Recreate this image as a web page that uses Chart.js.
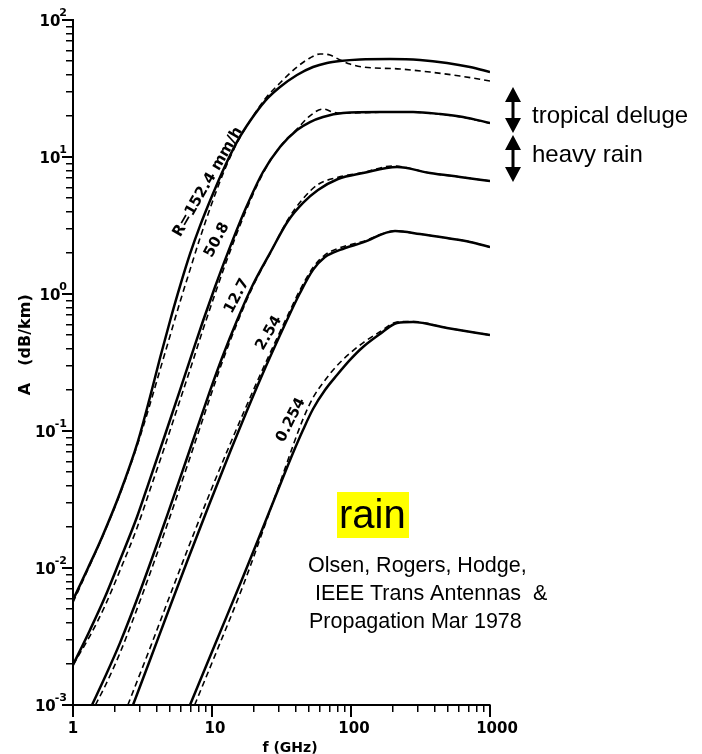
<!DOCTYPE html>
<html><head><meta charset="utf-8">
<script src="https://cdn.jsdelivr.net/npm/chart.js@4.4.1/dist/chart.umd.min.js"></script>
<style>html,body{margin:0;padding:0;background:#fff}#wrap{width:702px;height:754px;position:relative}</style>
</head><body><div id="wrap"><canvas id="c" width="702" height="754"></canvas></div>
<script>
// ---- data (frequency in GHz, attenuation in dB/km) ----
const rainRateLabels = ['R=152.4 mm/h', '50.8', '12.7', '2.54', '0.254'];
const yTickExponents = [-3, -2, -1, 0, 1, 2];
const xTickLabels = [1, 10, 100, 1000];

// R = 152.4 mm/h
const f152 = [1,1.282,1.617,2.178,2.935,3.581,4.227,4.988,5.886,6.947,8.199,10,12.41,15.13,18.77,24.06,30.84,40.88,53.3,67.2,83.36,116.1,190.8,313.6,490.6,718,1000];
const a152 = [0.00584,0.01,0.0168,0.0353,0.0845,0.177,0.341,0.635,1.14,1.96,3.14,5.19,8.6,12.9,18.3,25.6,32.4,39.7,45.4,48.6,50.2,51.5,51.9,51.1,48.6,45.4,41.7];
const f152d = [1,1.282,1.617,2.178,2.935,3.581,4.227,4.988,5.886,6.947,8.199,10,12.41,15.13,18.77,24.06,30.84,40.88,50.7,59.84,70.6,83.36,98.4,122,225.2,370.1,608.4,1000];
const a152d = [0.0056,0.0098,0.0166,0.0347,0.0817,0.157,0.279,0.494,0.874,1.5,2.56,4.62,8.18,12.65,18.3,26.5,34.7,45.4,52.8,56.5,55.5,51.1,47.7,45.4,43.9,41.7,39.0,35.9];

// R = 50.8 mm/h
const f508 = [1,1.325,1.699,2.178,2.886,3.581,4.59,5.886,7.178,8.615,10.51,12.82,17.28,23.28,30.84,40.88,50.7,62.89,87.6,161.7,279.3,436.9,639.3,1000];
const a508 = [0.00196,0.00353,0.00614,0.01144,0.02357,0.0446,0.0935,0.199,0.365,0.635,1.125,1.93,4.1,7.77,11.83,15.74,18.0,19.6,20.95,21.3,21.3,20.6,19.6,17.7];
const f508d = [1,1.325,1.699,2.178,2.886,3.581,4.59,5.886,7.178,8.615,10.51,12.82,17.28,23.28,30.84,40.88,50.7,62.89,75,87.6,161.7,279.3,436.9,639.3,1000];
const a508d = [0.00196,0.0032,0.0053,0.0096,0.0196,0.0372,0.078,0.168,0.31,0.55,1.0,1.78,3.9,7.6,11.9,16.0,20.0,22.4,21.2,20.9,21.2,21.2,20.5,19.5,17.6];

// R = 12.7 mm/h
const f127 = [1.37,1.699,2.178,3.136,4.746,6.61,9.674,11.8,15.13,19.72,26.14,35.23,45.15,57.89,80.62,122,214.3,370.1,608.4,1000];
const a127 = [0.001,0.0016,0.00284,0.00739,0.024,0.0635,0.196,0.341,0.641,1.173,1.99,3.41,4.62,5.74,6.91,7.64,8.45,7.64,7.15,6.68];
const f127d = [1.45,1.699,2.178,3.136,4.746,6.61,9.674,11.8,15.13,19.72,26.14,35.23,45.15,57.89,80.62,122,200,370.1,608.4,1000];
const a127d = [0.001,0.00137,0.0024,0.0063,0.0205,0.055,0.175,0.315,0.61,1.14,1.97,3.5,4.95,6.3,7.1,7.7,8.6,7.64,7.15,6.68];

// R = 2.54 mm/h
const f254 = [2.702,3.581,5.07,6.61,9.515,13.48,22.14,34.64,42.96,53.3,65.02,83.36,122,207.3,313.6,490.6,718,1000];
const a254 = [0.001,0.00213,0.00546,0.0111,0.0288,0.0703,0.236,0.646,1.017,1.5,1.86,2.1,2.38,2.88,2.74,2.56,2.4,2.2];
const f254d = [2.48,3.581,5.07,6.61,9.515,13.48,22.14,34.64,42.96,53.3,65.02,83.36,122,207.3,313.6,490.6,718,1000];
const a254d = [0.001,0.0026,0.0066,0.0133,0.034,0.08,0.255,0.68,1.07,1.56,1.93,2.18,2.42,2.88,2.74,2.56,2.4,2.2];

// R = 0.254 mm/h
const f0254 = [6.947,10.69,16.71,21.42,26.14,31.89,38.25,45.15,53.3,65.02,79.31,98.35,122,161.7,214.3,279.3,490.6,1000];
const a0254 = [0.001,0.00288,0.0086,0.016,0.0265,0.0439,0.0691,0.1017,0.1447,0.199,0.256,0.33,0.41,0.51,0.614,0.625,0.565,0.502];
const f0254d = [7.5,10.69,16.71,21.42,26.14,31.89,38.25,45.15,53.3,65.02,79.31,98.35,122,161.7,214.3,279.3,490.6,1000];
const a0254d = [0.001,0.0024,0.0074,0.0148,0.0262,0.046,0.078,0.122,0.175,0.235,0.3,0.37,0.44,0.53,0.625,0.63,0.565,0.502];

// ---- build datasets ----
const pts = (fs, as) => fs.map((f, i) => ({x: f, y: as[i]}));
const solidSets = [[f152,a152],[f508,a508],[f127,a127],[f254,a254],[f0254,a0254]];
const dashedSets = [[f152d,a152d],[f508d,a508d],[f127d,a127d],[f254d,a254d],[f0254d,a0254d]];
const datasets = [];
dashedSets.forEach(([f,a], i) => datasets.push({
  label: rainRateLabels[i] + ' (dashed)', data: pts(f,a), borderColor:'#000', borderWidth:1.6,
  borderDash:[6,4], pointRadius:0, fill:false, cubicInterpolationMode:'monotone'
}));
solidSets.forEach(([f,a], i) => datasets.push({
  label: rainRateLabels[i], data: pts(f,a), borderColor:'#000', borderWidth:2.5,
  pointRadius:0, fill:false, cubicInterpolationMode:'monotone'
}));

function logTicks(minExp, maxExp){
  const t = [];
  for (let e = minExp; e < maxExp; e++) for (let m = 1; m <= 9; m++) t.push({value: m * Math.pow(10, e)});
  t.push({value: Math.pow(10, maxExp)});
  return t;
}

function dblArrow(ctx, x, y1, y2){
  const hw = 8, hh = 15;
  ctx.lineWidth = 3;
  ctx.beginPath(); ctx.moveTo(x, y1 + hh - 2); ctx.lineTo(x, y2 - hh + 2); ctx.stroke();
  ctx.beginPath(); ctx.moveTo(x, y1); ctx.lineTo(x - hw, y1 + hh); ctx.lineTo(x + hw, y1 + hh); ctx.closePath(); ctx.fill();
  ctx.beginPath(); ctx.moveTo(x, y2); ctx.lineTo(x - hw, y2 - hh); ctx.lineTo(x + hw, y2 - hh); ctx.closePath(); ctx.fill();
}

const annot = {
  id: 'annot',
  afterDraw(chart){
    const {ctx, scales:{x, y}} = chart;
    ctx.save();
    ctx.strokeStyle = '#000'; ctx.fillStyle = '#000';
    // longer major ticks
    ctx.lineWidth = 2;
    yTickExponents.forEach(e => {
      const py = y.getPixelForValue(Math.pow(10, e));
      ctx.beginPath(); ctx.moveTo(x.left - 11, py); ctx.lineTo(x.left, py); ctx.stroke();
    });
    xTickLabels.forEach(v => {
      const px = x.getPixelForValue(v);
      ctx.beginPath(); ctx.moveTo(px, y.bottom); ctx.lineTo(px, y.bottom + 12); ctx.stroke();
    });
    // y tick labels 10^n
    ctx.textBaseline = 'middle'; ctx.textAlign = 'right';
    yTickExponents.forEach(e => {
      const py = y.getPixelForValue(Math.pow(10, e));
      const es = e < 0 ? '-' + (-e) : String(e);
      ctx.font = 'bold 11px "DejaVu Sans"';
      const ew = ctx.measureText(es).width;
      ctx.fillText(es, 67, py - 7);
      ctx.font = 'bold 15px "DejaVu Sans"';
      ctx.fillText('10', 67 - ew + 1, py + 2);
    });
    // x tick labels
    ctx.textAlign = 'center';
    ctx.font = 'bold 15px "DejaVu Sans"';
    const xoff = [0, 3, 3, 7];
    xTickLabels.forEach((v, i) => {
      ctx.fillText(String(v), x.getPixelForValue(v) + xoff[i], 729);
    });
    // axis titles
    ctx.font = 'bold 14px "DejaVu Sans"';
    ctx.textBaseline = 'top';
    ctx.fillText('f (GHz)', 290, 741);
    ctx.save();
    ctx.translate(26, 389); ctx.rotate(-Math.PI/2);
    ctx.font = 'bold 16px "DejaVu Sans"'; ctx.textBaseline = 'middle'; ctx.textAlign = 'center';
    ctx.fillText('A', 0, 0);
    ctx.fillText('(dB/km)', 59, 0);
    ctx.restore();
    // curve labels
    const lab = [[208,182,-60],[217,240,-62],[237,296,-62],[269,333,-60],[291,420,-63]];
    ctx.font = 'bold 15px "DejaVu Sans"';
    lab.forEach(([lx, ly, ang], i) => {
      ctx.save(); ctx.translate(lx, ly); ctx.rotate(ang * Math.PI / 180);
      ctx.textAlign = 'center'; ctx.textBaseline = 'middle';
      ctx.fillText(rainRateLabels[i], 0, 0);
      ctx.restore();
    });
    // arrows and their texts
    dblArrow(ctx, 513, 87, 133);
    dblArrow(ctx, 513, 135, 182);
    ctx.font = '24px "Liberation Sans"'; ctx.textAlign = 'left'; ctx.textBaseline = 'alphabetic';
    ctx.fillText('tropical deluge', 532, 123);
    ctx.fillText('heavy rain', 532, 162);
    // rain highlight
    ctx.fillStyle = '#ffff00';
    ctx.fillRect(337, 492, 72, 46);
    ctx.fillStyle = '#000';
    ctx.font = '40px "Liberation Sans"';
    ctx.fillText('rain', 339, 528);
    // citation
    ctx.font = '21.5px "Liberation Sans"';
    ctx.fillText('Olsen, Rogers, Hodge,', 308, 572);
    ctx.fillText('IEEE Trans Antennas  &', 315, 600);
    ctx.fillText('Propagation Mar 1978', 309, 628);
    ctx.restore();
  }
};

new Chart(document.getElementById('c'), {
  type: 'line',
  data: { datasets },
  options: {
    responsive: false, animation: false,
    layout: { padding: { left: 0, right: 212, top: 20, bottom: 0 } },
    plugins: { legend: { display: false }, tooltip: { enabled: false } },
    scales: {
      x: {
        type: 'logarithmic', min: 1, max: 1000, position: 'bottom',
        afterBuildTicks: s => { s.ticks = logTicks(0, 3); },
        afterFit: s => { s.height = 49; },
        grid: { drawOnChartArea: false, drawTicks: true, tickLength: 7, color: '#000', lineWidth: 1.5 },
        border: { display: true, color: '#000', width: 2 },
        ticks: { callback: () => '', autoSkip: false, maxRotation: 0, padding: 0 }
      },
      y: {
        type: 'logarithmic', min: 0.001, max: 100, position: 'left',
        afterBuildTicks: s => { s.ticks = logTicks(-3, 2); },
        afterFit: s => { s.width = 73; },
        grid: { drawOnChartArea: false, drawTicks: true, tickLength: 7, color: '#000', lineWidth: 1.5 },
        border: { display: true, color: '#000', width: 2 },
        ticks: { callback: () => '', autoSkip: false, padding: 0 }
      }
    }
  },
  plugins: [annot]
});
</script></body></html>
